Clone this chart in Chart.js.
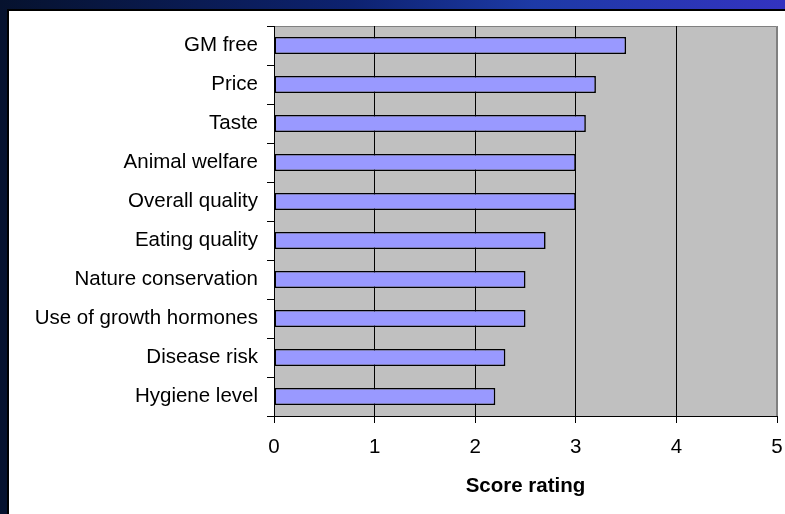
<!DOCTYPE html>
<html>
<head>
<meta charset="utf-8">
<script src="https://cdn.jsdelivr.net/npm/chart.js@4/dist/chart.umd.min.js"></script>
<style>
  html, body { margin: 0; padding: 0; width: 785px; height: 514px; overflow: hidden; }
  body { position: relative; background: linear-gradient(to right, #06122e 0%, #0d2270 45%, #1d3aa6 68%, #3333c0 100%); }
  .panel { position: absolute; left: 7px; top: 9px; right: 0; bottom: 0; background: #fff; border-left: 2px solid #000; border-top: 2px solid #000; }
  #chart { position: absolute; left: 0; top: 0; }
</style>
</head>
<body>
<div class="panel"></div>
<canvas id="chart" width="785" height="514"></canvas>
<script>
// values
const categories = ['GM free', 'Price', 'Taste', 'Animal welfare', 'Overall quality', 'Eating quality',
    'Nature conservation', 'Use of growth hormones', 'Disease risk', 'Hygiene level'];
const scores = [3.5, 3.2, 3.1, 3.0, 3.0, 2.7, 2.5, 2.5, 2.3, 2.2];
const xTicks = [0, 1, 2, 3, 4, 5];
const xTitle = 'Score rating';

const FONT = 'Liberation Sans, Arial, sans-serif';

// grey plot area behind the grid, grey frame on top/right
const plotArea = {
    id: 'plotArea',
    beforeDraw(chart) {
        const { ctx, chartArea: a } = chart;
        ctx.save();
        ctx.fillStyle = '#C0C0C0';
        ctx.fillRect(a.left, a.top, a.right - a.left, a.bottom - a.top);
        ctx.strokeStyle = '#808080';
        ctx.lineWidth = 1;
        ctx.beginPath();
        ctx.moveTo(a.left, a.top + 0.5);
        ctx.lineTo(a.right - 0.5, a.top + 0.5);
        ctx.lineTo(a.right - 0.5, a.bottom);
        ctx.stroke();
        ctx.restore();
    }
};

new Chart(document.getElementById('chart'), {
    type: 'bar',
    data: {
        labels: categories,
        datasets: [{
            data: scores,
            backgroundColor: '#9999FF',
            borderColor: '#000000',
            borderWidth: 1.6,
            borderSkipped: false,
            barPercentage: 0.44,
            categoryPercentage: 1
        }]
    },
    options: {
        indexAxis: 'y',
        responsive: false,
        animation: false,
        devicePixelRatio: 1,
        layout: { padding: { top: 26, right: 8, left: 0, bottom: 0 } },
        plugins: { legend: { display: false }, tooltip: { enabled: false } },
        scales: {
            x: {
                min: xTicks[0],
                max: xTicks[xTicks.length - 1],
                afterBuildTicks(scale) { scale.ticks = xTicks.map(v => ({ value: v })); },
                afterFit(scale) {
                    scale.height = 98;
                    scale.paddingLeft = 0;
                    scale.paddingRight = 0;
                },
                ticks: { color: '#000', padding: 12, font: { family: FONT, size: 20.5 } },
                grid: {
                    color: ctx => ctx.index === xTicks.length - 1 ? '#808080' : '#000000',
                    tickColor: '#000000',
                    tickLength: 7,
                    lineWidth: 1
                },
                border: { color: '#000000', width: 1 },
                title: {
                    display: true,
                    text: xTitle,
                    color: '#000',
                    font: { family: FONT, size: 20.5, weight: 'bold' },
                    padding: { top: 0, bottom: 15 }
                }
            },
            y: {
                afterFit(scale) {
                    scale.width = 274;
                    scale.paddingTop = 0;
                    scale.paddingBottom = 0;
                },
                ticks: { color: '#000', padding: 9, font: { family: FONT, size: 20.5 } },
                grid: {
                    offset: true,
                    drawOnChartArea: false,
                    tickColor: '#000000',
                    tickLength: 7
                },
                border: { color: '#000000', width: 1 }
            }
        }
    },
    plugins: [plotArea]
});
</script>
</body>
</html>
